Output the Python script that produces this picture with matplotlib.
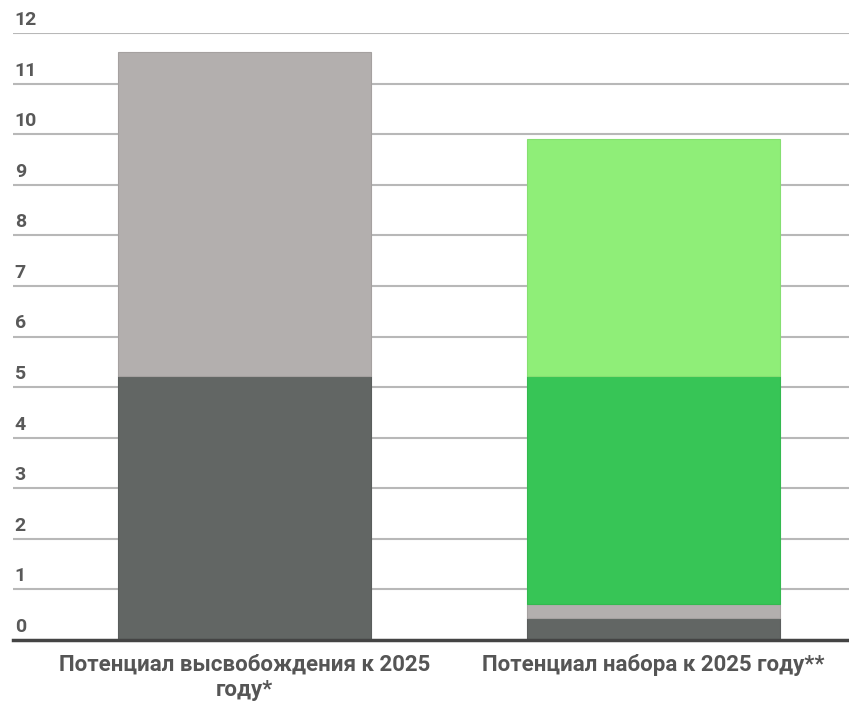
import matplotlib
matplotlib.use("Agg")
import matplotlib.pyplot as plt
import matplotlib.transforms as mtransforms

categories = ["Потенциал высвобождения к 2025\nгоду*", "Потенциал набора к 2025 году**"]
# stacked segments (bottom to top)
seg_dark = [5.22, 0.43]
seg_lightgray = [6.40, 0.28]
seg_green = [0.0, 4.51]
seg_lightgreen = [0.0, 4.69]
yticks = [0, 1, 2, 3, 4, 5, 6, 7, 8, 9, 10, 11, 12]

colors = ["#626664", "#b3afae", "#37c556", "#8fee78"]
edges = ["#5a5d5c", "#a5a1a0", "#33b94f", "#86df71"]

plt.rcParams['font.family'] = ['Roboto', 'DejaVu Sans']
fig = plt.figure(figsize=(8.49, 7.02), dpi=100)
ax = fig.add_axes([13/849, 1-640/702, 1-13/849, (640-33)/702])

x = [0, 1]
bottom = [0.0, 0.0]
for vals, c, ec in zip([seg_dark, seg_lightgray, seg_green, seg_lightgreen], colors, edges):
    lws = [0.8 if v > 0 else 0 for v in vals]
    ax.bar(x, vals, bottom=bottom, width=0.62, color=c, edgecolor=ec, linewidth=lws, zorder=3)
    bottom = [b + v for b, v in zip(bottom, vals)]

ax.set_xlim(-0.566, 1.478)
ax.set_ylim(0, 12)
for s in ax.spines.values():
    s.set_visible(False)
ax.set_yticks([])
ax.set_xticks([])

for t in yticks:
    if t > 0:
        ax.axhline(t, color="#b8b8b8", linewidth=1.5, zorder=1)
ax.axhline(0, color="#444444", linewidth=2.5, zorder=4, clip_on=False)

trans = mtransforms.blended_transform_factory(ax.transAxes, ax.transData)
for t in yticks:
    ax.text(0.002, t + 0.08, str(t), transform=trans, ha="left", va="bottom",
            fontsize=14, fontweight="bold", color="#595959")

for xi, lab in zip(x, categories):
    ax.text(xi, -0.27, lab, ha="center", va="top", fontsize=16, fontweight="bold",
            color="#555555", linespacing=1.2)

fig.savefig("out.png", dpi=100)
